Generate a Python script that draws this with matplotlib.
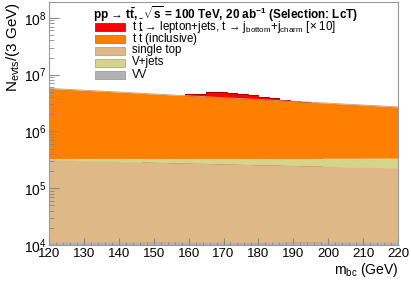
import matplotlib
matplotlib.use("Agg")
import matplotlib.pyplot as plt
import numpy as np
from matplotlib.patches import Rectangle
from matplotlib.ticker import LogLocator, MultipleLocator

plt.rcParams['font.family'] = ['Liberation Sans', 'DejaVu Sans']
plt.rcParams['mathtext.fontset'] = 'custom'
plt.rcParams['mathtext.rm'] = 'Liberation Sans'
plt.rcParams['mathtext.it'] = 'Liberation Sans:italic'
plt.rcParams['mathtext.bf'] = 'Liberation Sans:bold'
plt.rcParams['mathtext.default'] = 'regular'

# backgrounds, sampled every 10 GeV (stacked, bottom to top)
mass = [120, 130, 140, 150, 160, 170, 180, 190, 200, 210, 220]
vv = [1.12e4, 1.13e4, 1.11e4, 1.12e4, 1.11e4, 1.11e4, 1.10e4, 1.12e4, 1.12e4, 1.11e4, 1.11e4]
single_top = [3.04e5, 2.94e5, 2.84e5, 2.75e5, 2.66e5, 2.57e5, 2.48e5, 2.40e5, 2.32e5, 2.24e5, 2.16e5]
vjets = [1.9e4, 3.0e4, 4.0e4, 5.0e4, 6.0e4, 6.9e4, 7.9e4, 8.8e4, 9.6e4, 1.05e5, 1.14e5]
ttbar = [5.40e6, 4.98e6, 4.60e6, 4.23e6, 3.90e6, 3.60e6, 3.31e6, 3.05e6, 2.80e6, 2.58e6, 2.36e6]

# signal x10, 3 GeV bins
sig_edges = [147, 150, 153, 156, 159, 162, 165, 168, 171, 174, 177, 180, 183, 186, 189, 192, 195, 198]
sig_vals = [2.6e6, 3.2e6, 3.8e6, 4.25e6, 4.52e6, 4.63e6, 4.91e6, 4.97e6, 4.83e6, 4.64e6,
            4.40e6, 4.10e6, 3.85e6, 3.59e6, 3.41e6, 3.27e6, 2.6e6]

labels = ["t $\\bar{t}$ \u2192 lepton+jets, t \u2192 j$_{bottom}$+j$_{charm}$ [\u00d7 10]",
          "t $\\bar{t}$ (inclusive)", "single top", "V+jets", "VV"]
colors = ["#ff0000", "#ff7f00", "#deb887", "#d6d38a", "#b2b2b2"]
edges = ["#b00000", "#c86400", "#b8966a", "#a8a564", "#909090"]

fig = plt.figure(figsize=(4.11, 2.87), dpi=100)
ax = fig.add_axes([49/411, 42/287, 349/411, 243/287])

ax.stairs(sig_vals, sig_edges, fill=True, color=colors[0], zorder=1)
ax.stairs(sig_vals, sig_edges, color=edges[0], lw=0.8, zorder=1)

layers = [vv, single_top, vjets, ttbar]
layer_cols = [colors[4], colors[2], colors[3], colors[1]]
layer_edges = [edges[4], edges[2], edges[3], "#c0a080"]
base = np.full(len(mass), 1.0)
for vals, c, e in zip(layers, layer_cols, layer_edges):
    top = base + np.array(vals)
    ax.fill_between(mass, base, top, color=c, lw=0, zorder=2)
    ax.plot(mass, top, color=e, lw=0.6, zorder=2)
    base = top

ax.set_yscale('log')
ax.set_xlim(120, 220)
ax.set_ylim(1e4, 1.9e8)

ax.xaxis.set_major_locator(MultipleLocator(10))
ax.xaxis.set_minor_locator(MultipleLocator(2))
ax.yaxis.set_major_locator(LogLocator(base=10))
ax.yaxis.set_minor_locator(LogLocator(base=10, subs=np.arange(2, 10)))
ax.yaxis.set_minor_formatter(plt.NullFormatter())
ax.tick_params(which='both', direction='in', color='#888888', labelsize=10, pad=2)
ax.tick_params(axis='y', which='major', length=7)
ax.tick_params(axis='y', which='minor', length=3.5)
ax.tick_params(axis='x', which='major', length=5, labelsize=9.5)
ax.tick_params(axis='x', which='minor', length=2.5)
for s in ax.spines.values():
    s.set_color('#999999')
    s.set_linewidth(0.8)
    s.set_zorder(5)
ax.set_axisbelow(False)

ax.set_xlabel(r"m$_{bc}$ (GeV)", fontsize=10, loc='right', labelpad=1)
ax.set_ylabel(r"N$_{evts}$/(3 GeV)", fontsize=11, loc='top', labelpad=1)

# legend
def px(x, y):
    return x / 411, 1 - y / 287

fig.text(*px(93, 14), "pp \u2192 t$\\bar{\\mathbf{t}}$,  $\\sqrt{s}$ = 100 TeV, 20 ab$^{-1}$ (Selection: LcT)",
         fontsize=8.5, fontweight='bold', va='center', ha='left')
rows = [26.5, 38.5, 50.5, 62.5, 74.5]
for yy, lab, c, e in zip(rows, labels, colors, edges):
    x0, y0 = px(95, yy + 4)
    fig.patches.append(Rectangle((x0, y0), 30/411, 8/287, transform=fig.transFigure,
                                 facecolor=c, edgecolor=e, lw=0.5))
    fig.text(*px(132, yy), lab, fontsize=8.3, va='center', ha='left')

fig.savefig("out.png", dpi=100)
